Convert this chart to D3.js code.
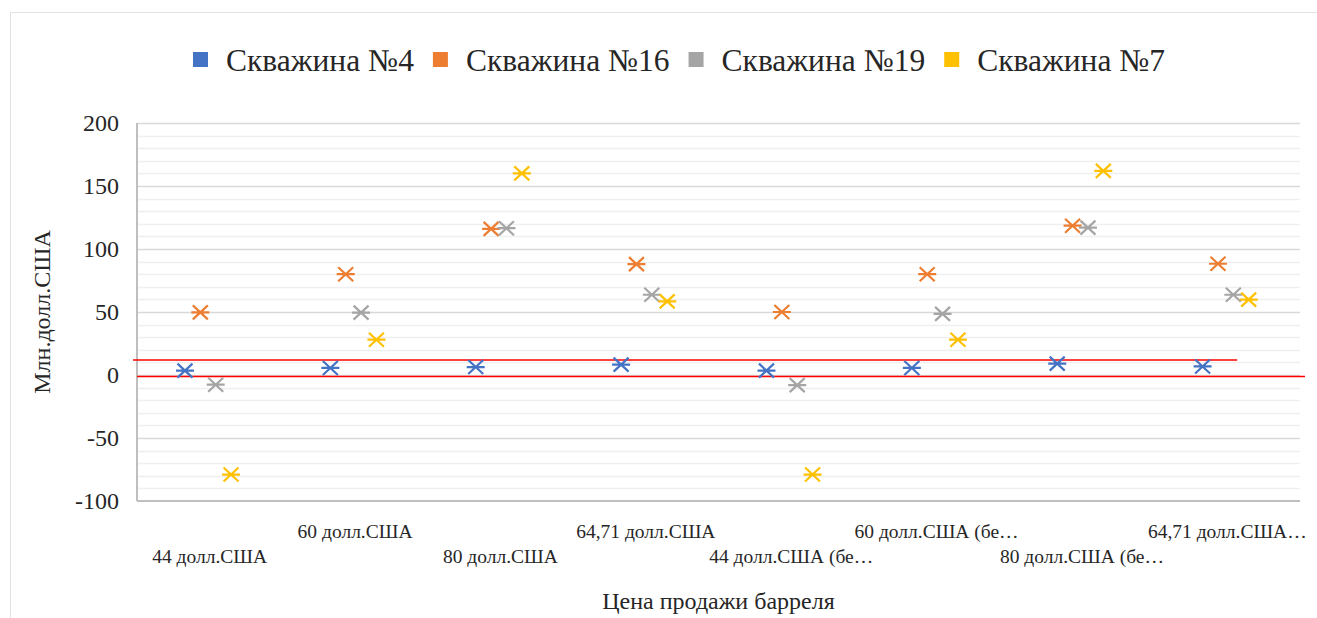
<!DOCTYPE html>
<html>
<head>
<meta charset="utf-8">
<script src="https://cdn.jsdelivr.net/npm/d3@7"></script>
<style>
  body { margin: 0; background: #fff; }
</style>
</head>
<body>
<div id="chart"></div>
<script>
// categories (x axis) as shown in the picture
const categories = ["44 долл.США", "60 долл.США", "80 долл.США", "64,71 долл.США",
    "44 долл.США (бе…", "60 долл.США (бе…", "80 долл.США (бе…", "64,71 долл.США…"];

const seriesNames = ["Скважина №4", "Скважина №16", "Скважина №19", "Скважина №7"];
const seriesColors = ["#4472C4", "#ED7D31", "#A5A5A5", "#FFC000"];

// values, mln USD
const well4 = [3.5, 5.6, 6.3, 8.2, 3.5, 5.6, 9, 6.8];
const well16 = [49.7, 80, 116, 88, 50, 80, 118.5, 88.3];
const well19 = [-7.7, 49.5, 116.5, 63.7, -8, 48.5, 117, 63.7];
const well7 = [-79, 28, 160, 58.4, -79, 28, 162, 59.8];

const yTicks = [-100, -50, 0, 50, 100, 150, 200];
const refLines = [0, 13];

const yTitle = "Млн.долл.США";
const xTitle = "Цена продажи барреля";

var serif = "Liberation Serif";
var width = 1317, height = 618;
var margin = {top: 123, right: 17, bottom: 117, left: 137};

var svg = d3.select("#chart").append("svg")
    .attr("width", width)
    .attr("height", height);

// chart border
svg.append("rect")
    .attr("x", 10.5).attr("y", 12.5)
    .attr("width", width - 10).attr("height", height - 10)
    .attr("fill", "none")
    .attr("stroke", "#e3e3e3");

var x = d3.scaleBand()
    .domain(categories)
    .range([margin.left, width - margin.right]);

var xInner = d3.scalePoint()
    .domain(seriesNames)
    .range([x.bandwidth() * 0.33, x.bandwidth() * 0.647]);

var y = d3.scaleLinear()
    .domain([-100, 200])
    .range([height - margin.bottom, margin.top]);

// minor grid
svg.append("g")
    .selectAll("line")
    .data(d3.range(-100, 201, 10).filter(v => v % 50 !== 0))
    .join("line")
    .attr("x1", margin.left).attr("x2", width - margin.right)
    .attr("y1", d => Math.round(y(d)) + 0.5).attr("y2", d => Math.round(y(d)) + 0.5)
    .attr("stroke", "#efefef")
    .attr("stroke-width", 1.5);

// major grid
svg.append("g")
    .selectAll("line")
    .data(yTicks.filter(v => v !== -100))
    .join("line")
    .attr("x1", margin.left).attr("x2", width - margin.right)
    .attr("y1", d => Math.round(y(d)) + 0.5).attr("y2", d => Math.round(y(d)) + 0.5)
    .attr("stroke", "#d9d9d9")
    .attr("stroke-width", 1.5);

// axis lines
svg.append("line")
    .attr("x1", margin.left).attr("x2", width - margin.right)
    .attr("y1", y(-100)).attr("y2", y(-100))
    .attr("stroke", "#bfbfbf").attr("stroke-width", 2);
svg.append("line")
    .attr("x1", margin.left).attr("x2", margin.left)
    .attr("y1", y(200)).attr("y2", y(-100))
    .attr("stroke", "#bfbfbf").attr("stroke-width", 2);

// y axis
var yAxis = d3.axisLeft(y).tickValues(yTicks).tickSize(0).tickPadding(18)
    .tickFormat(d => String(d));
svg.append("g")
    .attr("transform", "translate(" + margin.left + ",0)")
    .call(yAxis)
    .call(g => g.select(".domain").remove())
    .selectAll("text")
    .style("font-size", "24px")
    .attr("fill", "#262626");

// x labels, staggered in two rows
svg.append("g")
    .selectAll("text")
    .data(categories)
    .join("text")
    .attr("x", d => x(d) + x.bandwidth() / 2)
    .attr("y", (d, i) => i % 2 === 0 ? 563 : 538)
    .attr("text-anchor", "middle")
    .style("font-size", "19.5px")
    .attr("fill", "#262626")
    .text(d => d);

// red reference lines
var plotW = width - margin.right - margin.left;
svg.append("g")
    .selectAll("line")
    .data(refLines)
    .join("line")
    .attr("x1", (d, i) => i === 0 ? margin.left : margin.left - 4)
    .attr("x2", (d, i) => i === 0 ? width - margin.right + 5 : margin.left + plotW * 0.946)
    .attr("y1", d => y(d) + 1.5).attr("y2", d => y(d) + 1.5)
    .attr("stroke", "#ff0000")
    .attr("stroke-width", 1.5);

// markers
var seriesData = [well4, well16, well19, well7];
var points = [];
seriesData.forEach(function (vals, s) {
    vals.forEach(function (v, i) {
        points.push({cat: categories[i], name: seriesNames[s], color: seriesColors[s], value: v});
    });
});

var star = "M-9,0L9,0M-7.5,-7L7.5,7M-7.5,7L7.5,-7";
svg.append("g")
    .selectAll("path")
    .data(points)
    .join("path")
    .attr("transform", d => "translate(" + (x(d.cat) + xInner(d.name)) + "," + y(d.value) + ")")
    .attr("d", star)
    .attr("fill", "none")
    .attr("stroke", d => d.color)
    .attr("stroke-width", 2.2);

// legend
var legend = svg.append("g");
var lx = 193;
seriesNames.forEach(function (name, i) {
    legend.append("rect")
        .attr("x", lx).attr("y", 52)
        .attr("width", 15).attr("height", 15)
        .attr("fill", seriesColors[i]);
    var t = legend.append("text")
        .attr("x", lx + 33).attr("y", 71)
        .style("font-size", "31.5px")
        .attr("fill", "#262626")
        .text(name);
    lx += 33 + t.node().getComputedTextLength() + 19;
});

// axis titles
svg.append("text")
    .attr("transform", "translate(50," + ((y(200) + y(-100)) / 2) + ") rotate(-90)")
    .attr("text-anchor", "middle")
    .style("font-size", "24px")
    .attr("fill", "#262626")
    .text(yTitle);

svg.append("text")
    .attr("x", margin.left + plotW / 2)
    .attr("y", 609)
    .attr("text-anchor", "middle")
    .style("font-size", "24px")
    .attr("fill", "#262626")
    .text(xTitle);

// one font for every text
svg.selectAll("text").style("font-family", serif);
</script>
</body>
</html>
